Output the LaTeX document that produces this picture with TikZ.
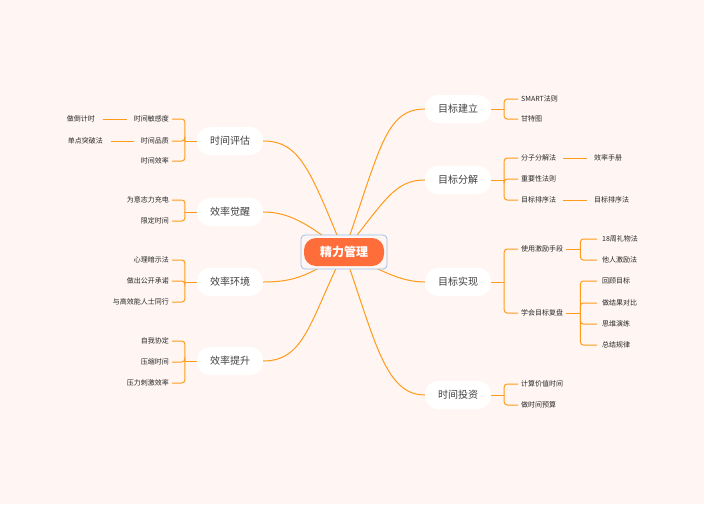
\documentclass[tikz,border=0pt]{standalone}
\usepackage{fontspec}
\setmainfont{Noto Sans CJK SC}
\definecolor{ln}{HTML}{FF9A1A}
\definecolor{ctrc}{HTML}{FF6E3A}
\definecolor{bg}{HTML}{FFF6F3}
\begin{document}
\begin{tikzpicture}[x=1pt,y=-1pt,
  main/.style={fill=white,rounded corners=13pt,minimum width=66pt,minimum height=28pt,font=\fontsize{10}{12}\selectfont,text=black!75},
  leafr/.style={anchor=west,inner sep=1pt,font=\fontsize{7}{8}\selectfont,text=black!85},
  leafl/.style={anchor=east,inner sep=1pt,font=\fontsize{7}{8}\selectfont,text=black!85},
  br/.style={draw=ln,line width=1pt,rounded corners=3pt},
  cv/.style={draw=ln,line width=1pt}]
\fill[bg] (0,0) rectangle (704,504);
\useasboundingbox (0,0) rectangle (704,504);
% main nodes
\node[main] (r1) at (458,109) {目标建立};
\node[main] (r2) at (458,180) {目标分解};
\node[main] (r3) at (458,282) {目标实现};
\node[main] (r4) at (458,395) {时间投资};
\node[main] (l1) at (230,141) {时间评估};
\node[main] (l2) at (230,212) {效率觉醒};
\node[main] (l3) at (230,282) {效率环境};
\node[main] (l4) at (230,361) {效率提升};
\coordinate (c) at (344,252);
% curves
\draw[cv] (c) .. controls (380,150) and (385,109) .. (r1.west);
\draw[cv] (c) .. controls (385,200) and (395,180) .. (r2.west);
\draw[cv] (c) .. controls (380,270) and (400,282) .. (r3.west);
\draw[cv] (c) .. controls (375,340) and (385,395) .. (r4.west);
\draw[cv] (c) .. controls (310,170) and (300,141) .. (l1.east);
\draw[cv] (c) .. controls (310,225) and (290,212) .. (l2.east);
\draw[cv] (c) .. controls (310,275) and (295,282) .. (l3.east);
\draw[cv] (c) .. controls (310,320) and (305,361) .. (l4.east);
\draw[draw=cyan!60!blue!40,line width=0.8pt,fill=bg,rounded corners=4pt] (301,235) rectangle (387,269);
\node[fill=ctrc,rounded corners=12pt,minimum width=80pt,minimum height=28pt,text=white,font=\bfseries\fontsize{12}{14}\selectfont] (ctr) at (344,252) {精力管理};
% right leaves
\node[leafr] (a1) at (520,99) {SMART法则};
\node[leafr] (a2) at (520,119) {甘特图};
\node[leafr] (b1) at (520,158) {分子分解法};
\node[leafr] (b2) at (520,179) {重要性法则};
\node[leafr] (b3) at (520,200) {目标排序法};
\node[leafr] (b1x) at (593,158) {效率手册};
\node[leafr] (b3x) at (593,200) {目标排序法};
\node[leafr] (e1) at (520,249) {使用激励手段};
\node[leafr] (e2) at (520,313) {学会目标复盘};
\node[leafr] (e11) at (601,239) {18周礼物法};
\node[leafr] (e12) at (601,260) {他人激励法};
\node[leafr] (e21) at (601,281) {回顾目标};
\node[leafr] (e22) at (601,303) {做结果对比};
\node[leafr] (e23) at (601,324) {思维演练};
\node[leafr] (e24) at (601,345) {总结规律};
\node[leafr] (f1) at (520,384) {计算价值时间};
\node[leafr] (f2) at (520,405) {做时间预算};
% left leaves
\node[leafl] (g1) at (170,119) {时间敏感度};
\node[leafl] (g2) at (170,141) {时间品质};
\node[leafl] (g3) at (170,161) {时间效率};
\node[leafl] (g1x) at (96,119) {做倒计时};
\node[leafl] (g2x) at (104,141) {单点突破法};
\node[leafl] (h1) at (170,200) {为意志力充电};
\node[leafl] (h2) at (170,221) {限定时间};
\node[leafl] (i1) at (170,260) {心理暗示法};
\node[leafl] (i2) at (170,281) {做出公开承诺};
\node[leafl] (i3) at (170,302) {与高效能人士同行};
\node[leafl] (j1) at (170,341) {自我协定};
\node[leafl] (j2) at (170,362) {压缩时间};
\node[leafl] (j3) at (170,383) {压力刺激效率};
% right brackets
\foreach \p/\cs in {r1/{a1,a2},r2/{b1,b2,b3},r3/{e1,e2},r4/{f1,f2}}{
  \draw[cv] (\p.east) -- ++(13,0);
  \foreach \k in \cs { \draw[br] (\p.east) ++(13,0) |- ([xshift=-6pt]\k.west) -- ([xshift=-2pt]\k.west); }
}
\foreach \p/\cs in {e1/{e11,e12},e2/{e21,e22,e23,e24}}{
  \draw[cv] ([xshift=2pt]\p.east) -- ++(14,0);
  \foreach \k in \cs { \draw[br] ([xshift=16pt]\p.east) |- ([xshift=-4pt]\k.west); }
}
\draw[cv] ([xshift=6pt]b1.east) -- ([xshift=-6pt]b1x.west);
\draw[cv] ([xshift=6pt]b3.east) -- ([xshift=-6pt]b3x.west);
% left brackets
\foreach \p/\cs in {l1/{g1,g2,g3},l2/{h1,h2},l3/{i1,i2,i3},l4/{j1,j2,j3}}{
  \draw[cv] (\p.west) -- ++(-12,0);
  \foreach \k in \cs { \draw[br] (\p.west) ++(-12,0) |- ([xshift=5pt]\k.east) -- ([xshift=2pt]\k.east); }
}
\draw[cv] ([xshift=-6pt]g1.west) -- ([xshift=7pt]g1x.east);
\draw[cv] ([xshift=-6pt]g2.west) -- ([xshift=7pt]g2x.east);
\end{tikzpicture}
\end{document}
